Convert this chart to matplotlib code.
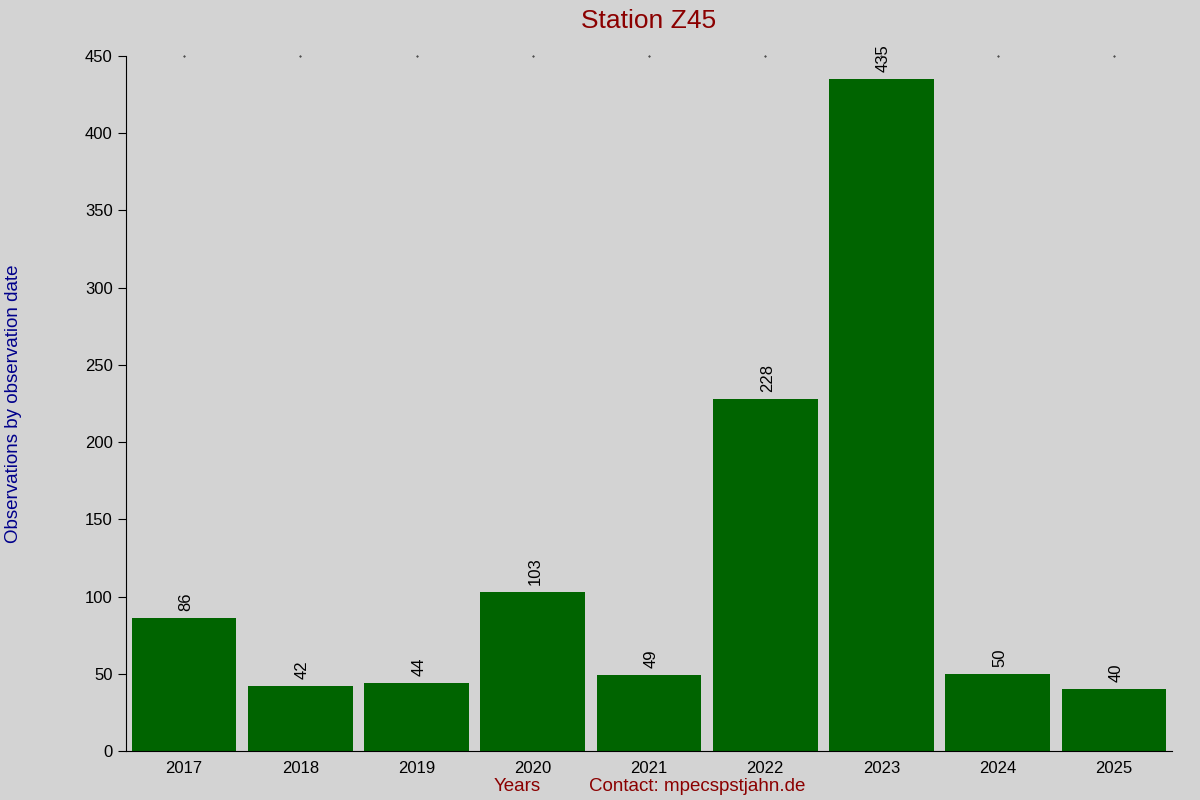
import matplotlib
matplotlib.use('Agg')
import matplotlib.pyplot as plt

plt.rcParams['font.family'] = ['Liberation Sans', 'DejaVu Sans']

years = ['2017', '2018', '2019', '2020', '2021', '2022', '2023', '2024', '2025']
counts = [86, 42, 44, 103, 49, 228, 435, 50, 40]

bg = '#d3d3d3'
fig = plt.figure(figsize=(12, 8), dpi=100, facecolor=bg)
ax = fig.add_axes([0.105, 0.06125, 0.8717, 0.86875], facecolor=bg)

x = range(len(years))
bars = ax.bar(x, counts, width=0.9, color='#006400')

# value labels, rotated, just above each bar
for xi, v in zip(x, counts):
    ax.annotate(str(v), (xi, v), xytext=(1.5, 5), textcoords='offset points',
                rotation=90, ha='center', va='bottom', fontsize=12, color='black')

ax.set_xlim(-0.5, len(years) - 0.5)
ax.set_ylim(0, 450)
ax.set_yticks(range(0, 451, 50))
ax.set_xticks(list(x))
ax.set_xticklabels(years)
ax.tick_params(axis='x', length=0, labelsize=12, pad=7)
ax.tick_params(axis='y', length=6, labelsize=12, direction='out')
for xi in x:
    ax.plot(xi, 450, marker='.', markersize=0.8, color='black', clip_on=False)

ax.spines['top'].set_visible(False)
ax.spines['right'].set_visible(False)

ax.set_title('Station Z45', color='#8b0000', fontsize=19, pad=20)
ax.set_ylabel('Observations by observation date', color='#00008b', fontsize=13.5, labelpad=45)
fig.text(0.431, 0.006, 'Years', color='#8b0000', fontsize=13.5, ha='center', va='bottom')
fig.text(0.581, 0.006, 'Contact: mpecspstjahn.de', color='#8b0000', fontsize=13.5, ha='center', va='bottom')

fig.savefig('out.png', dpi=100, facecolor=bg)
